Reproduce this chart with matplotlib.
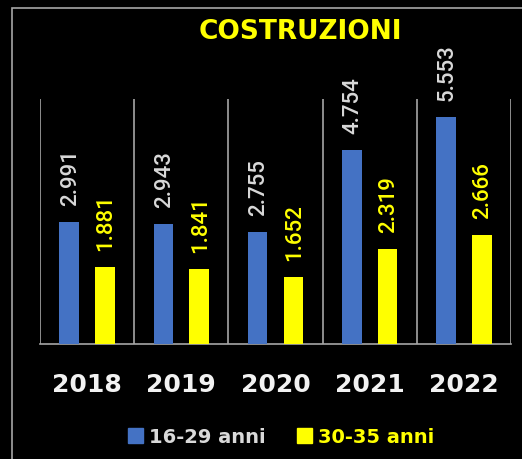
import numpy as np
import matplotlib
matplotlib.use("Agg")
import matplotlib.pyplot as plt
from matplotlib.patches import Rectangle, Patch

# data
years = ["2018", "2019", "2020", "2021", "2022"]
giovani = [2991, 2943, 2755, 4754, 5553]   # 16-29 anni
adulti = [1881, 1841, 1652, 2319, 2666]    # 30-35 anni
series_labels = ["16-29 anni", "30-35 anni"]

BLUE = "#4472C4"
YELLOW = "#FFFF00"
GRID = "#A6A6A6"
LIGHT = "#D9D9D9"


def it_format(v):
    # italian thousands separator
    return f"{v:,}".replace(",", ".")


fig = plt.figure(figsize=(5.22, 4.6), dpi=100, facecolor="black")
ax = fig.add_axes([40 / 522, 115 / 460, 471 / 522, 245 / 460])
ax.set_facecolor("black")

# outer frame of the chart area
fig.patches.append(Rectangle((12 / 522, -0.1), 1.2, 1 - 9 / 460 + 0.1,
                             transform=fig.transFigure, fill=False,
                             edgecolor=GRID, linewidth=1.2))

x = np.arange(len(years))
off = 0.19
w = 0.21
b1 = ax.bar(x - off, giovani, width=w, color=BLUE, zorder=3)
b2 = ax.bar(x + off, adulti, width=w, color=YELLOW, zorder=3)

# vertical value labels above bars
for bars, vals, col in [(b1, giovani, LIGHT), (b2, adulti, YELLOW)]:
    for r, v in zip(bars, vals):
        ax.annotate(it_format(v), (r.get_x() + r.get_width() / 2, r.get_height()),
                    xytext=(1, 17), textcoords="offset pixels",
                    rotation=90, ha="center", va="bottom", color=col,
                    fontsize=16, family="Roboto", fontweight="medium",
                    annotation_clip=False)

ax.set_xlim(-0.5, len(years) - 0.5)
ax.set_ylim(0, 6000)

# separators between categories
ax.set_xticks(np.arange(-0.5, len(years)), minor=True)
ax.grid(which="minor", axis="x", color=GRID, linewidth=1.2)
ax.set_xticks(x)
ax.set_xticklabels(years, fontsize=18, fontweight="bold", color="#F2F2F2")
ax.tick_params(axis="x", which="both", length=0, pad=20)
ax.set_yticks([])

for s in ["top", "right", "left"]:
    ax.spines[s].set_visible(False)
ax.spines["bottom"].set_color(GRID)
ax.spines["bottom"].set_linewidth(1.2)

fig.text(300 / 522, 1 - 32 / 460, "COSTRUZIONI", ha="center", va="center",
         color=YELLOW, fontsize=19, fontweight="bold")

handles = [Patch(color=BLUE), Patch(color=YELLOW)]
leg = fig.legend(handles, series_labels, loc="center",
                 bbox_to_anchor=(281 / 522, 22 / 460), ncol=2, frameon=False,
                 handlelength=0.8, handleheight=0.8, handletextpad=0.3,
                 columnspacing=1.6, prop={"weight": "bold", "size": 14})
for t, c in zip(leg.get_texts(), [LIGHT, YELLOW]):
    t.set_color(c)

fig.savefig("out.png", dpi=100, facecolor="black")
